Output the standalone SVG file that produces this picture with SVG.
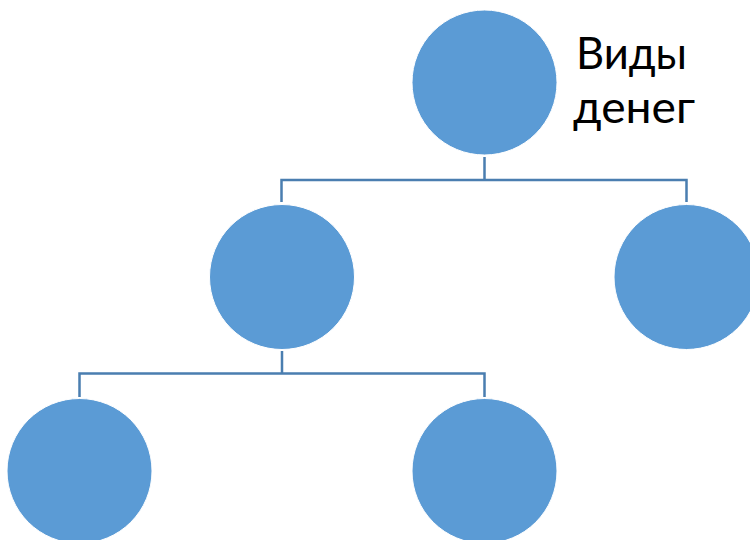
<svg xmlns="http://www.w3.org/2000/svg" width="750" height="540" viewBox="0 0 750 540">
<style>
.node{fill:#5B9BD5;stroke:#ffffff;stroke-width:1}
.conn{fill:none;stroke:#4a7eb0;stroke-width:2.5}
.lbl{font-family:Lato,"Open Sans","Liberation Sans",sans-serif;font-size:44px;fill:#000000}
</style>
<rect width="750" height="540" fill="#ffffff"/>
<g id="connectors">
<path class="conn" d="M484.5,157 V180 M281.5,202 V180 H686.5 V202"/>
<path class="conn" d="M282,351 V373.5 M79.5,397 V373.5 H484.5 V397"/>
</g>
<g id="node-root">
<circle class="node" cx="484.5" cy="82.5" r="72.5"/>
<text class="lbl" x="576" y="69" textLength="111" lengthAdjust="spacingAndGlyphs">Виды</text>
<text class="lbl" x="573" y="123" textLength="122" lengthAdjust="spacingAndGlyphs">денег</text>
</g>
<g id="node-mid-left"><circle class="node" cx="282" cy="277" r="72.5"/></g>
<g id="node-mid-right"><circle class="node" cx="686.5" cy="277" r="72.5"/></g>
<g id="node-bottom-left"><circle class="node" cx="79.5" cy="471" r="72.5"/></g>
<g id="node-bottom-right"><circle class="node" cx="484.5" cy="471" r="72.5"/></g>
</svg>
